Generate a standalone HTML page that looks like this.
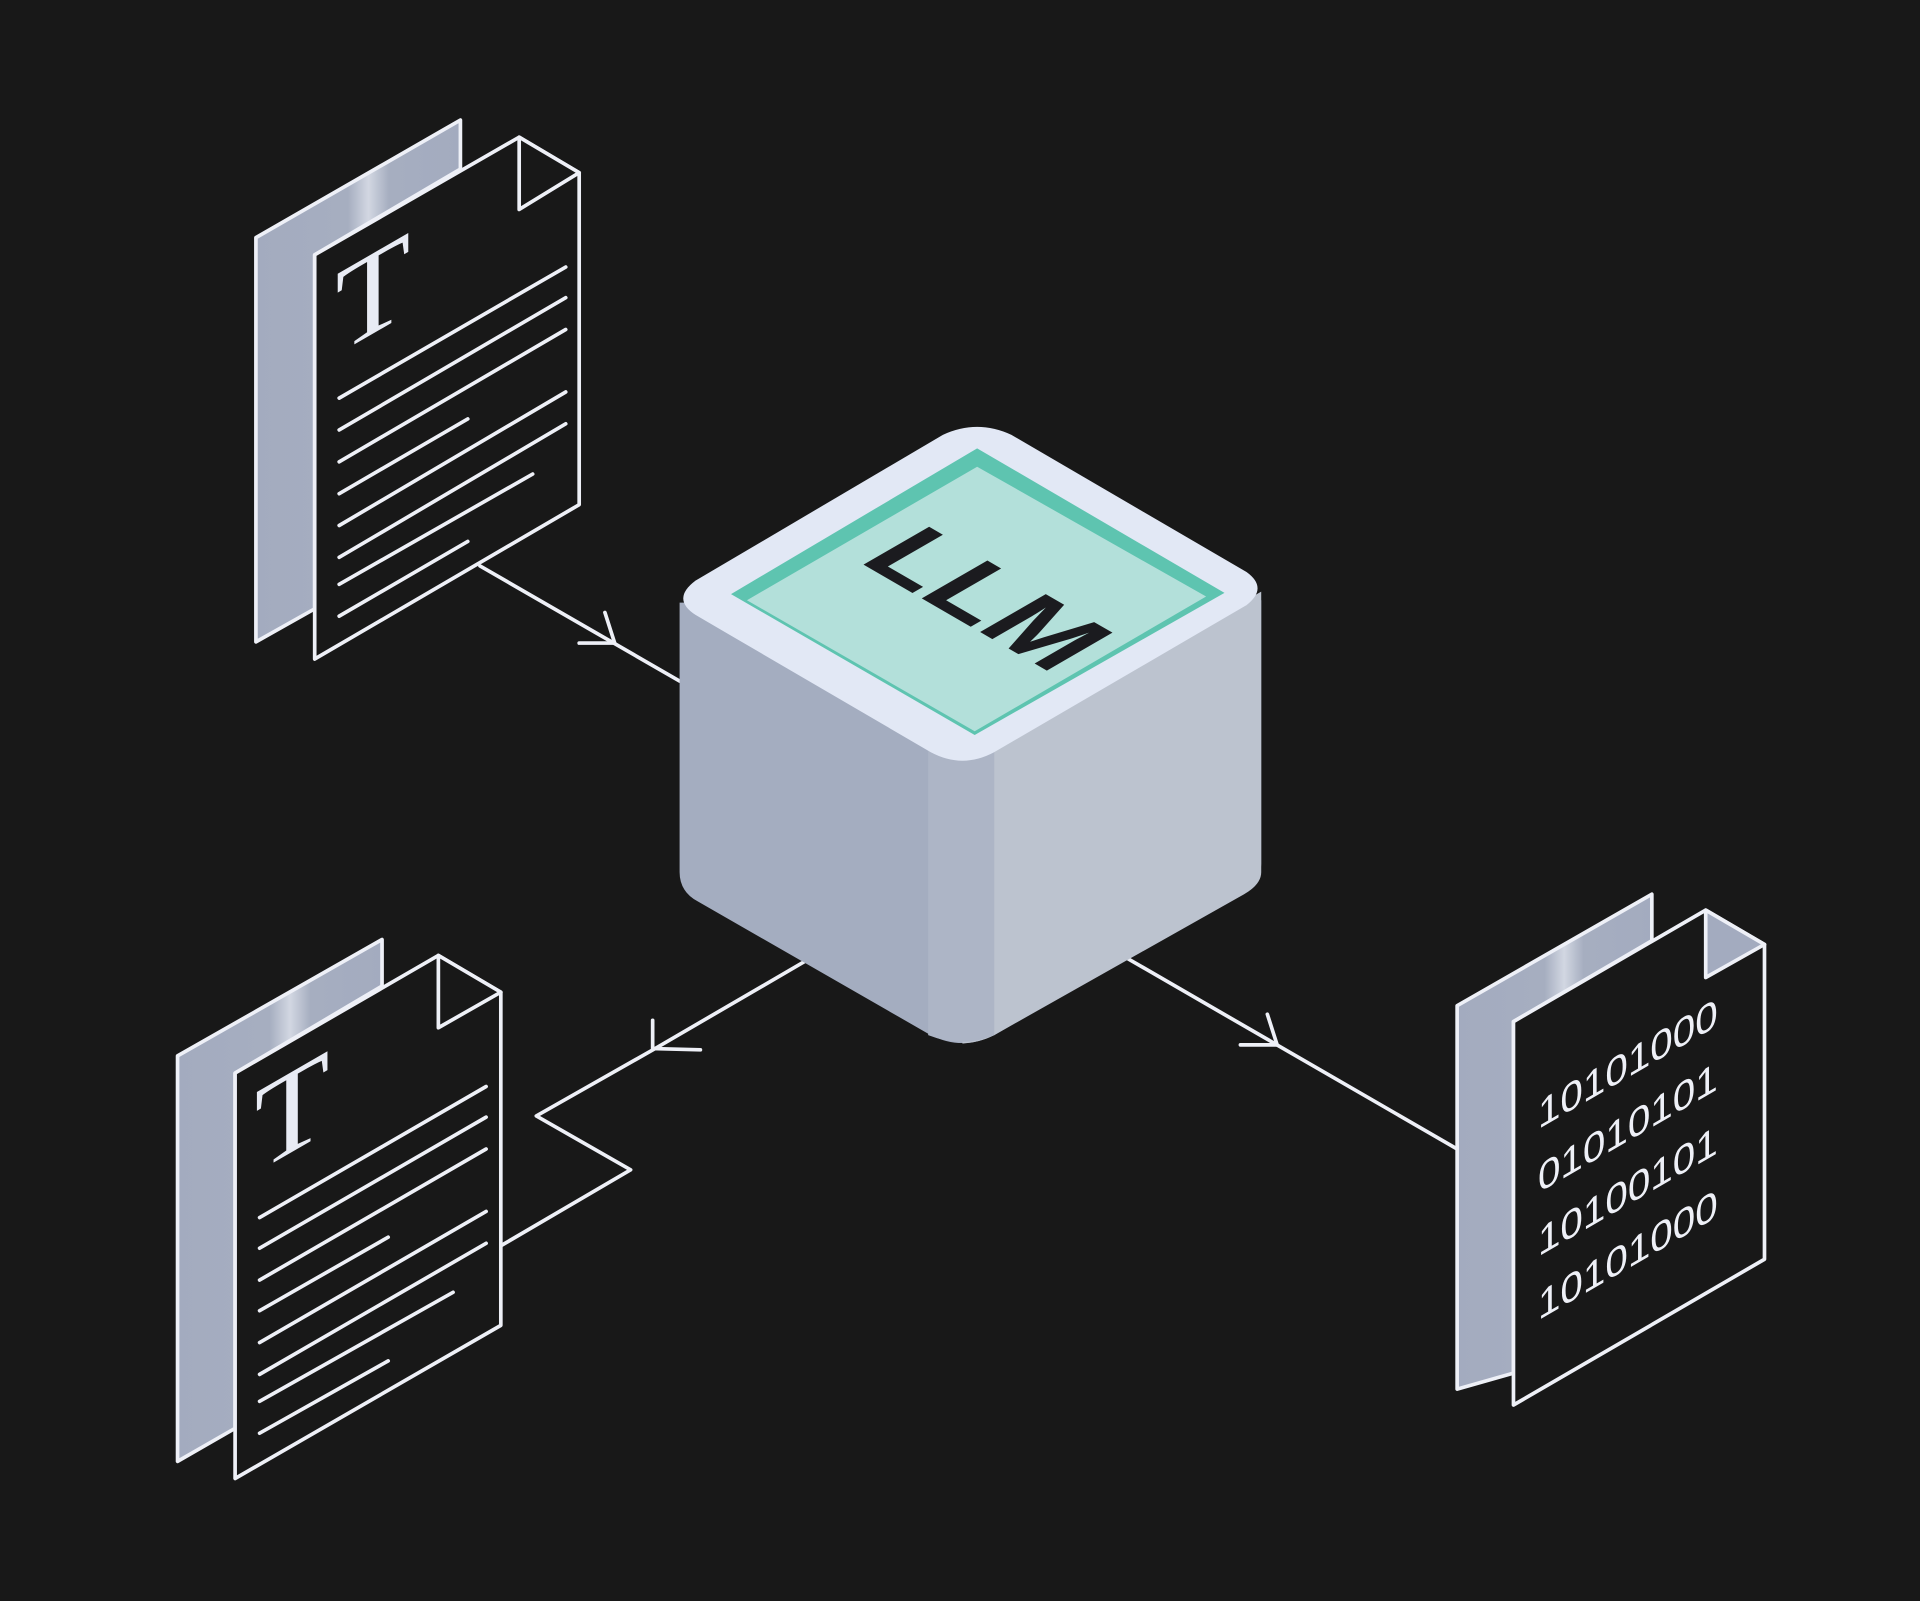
<!DOCTYPE html>
<html><head><meta charset="utf-8"><style>
html,body{margin:0;padding:0;background:#181818;}
svg{display:block}
</style></head><body>
<svg width="1920" height="1601" viewBox="0 0 1568 1307" preserveAspectRatio="none" xmlns="http://www.w3.org/2000/svg">
<defs>
<linearGradient id="pg" x1="0" y1="0" x2="1" y2="0">
<stop offset="0" stop-color="#a3abbf"/><stop offset="0.45" stop-color="#a6aec0"/><stop offset="0.55" stop-color="#d2d7e2"/><stop offset="0.65" stop-color="#a6aec0"/><stop offset="1" stop-color="#a3abbf"/>
</linearGradient>
</defs>
<rect width="1568" height="1307" fill="#181818"/>
<g stroke="#eef0f7" stroke-width="3" stroke-linecap="round" stroke-linejoin="round" fill="none">
<path d="M392 462 L555 556"/>
<path d="M473 525 L502 525 M494 500 L502 525"/>
<path d="M657 785 L535 856 L438 911 L515 955 L409 1017"/>
<path d="M533 833 L533 856 L572 857"/>
<path d="M920 782 L1190 938"/>
<path d="M1013 853 L1043 853 M1035 828 L1043 853"/>

<polygon points="209,194 376,98 376,138 257,208 257,497 209,524" fill="url(#pg)"/>
<polygon points="257,208 424,112 473,141 473,412 257,538" fill="#181818"/>
<polygon points="424,112 424,171 473,141" fill="#181818"/>
<path d="M277 325 L462 218 M277 351 L462 243 M277 377 L462 269 M277 403 L382 342 M277 429 L462 320 M277 455 L462 346 M277 477 L435 387 M277 503 L382 442"/>

<polygon points="145,862 312,767 312,805 192,876 192,1166 145,1193" fill="url(#pg)"/>
<polygon points="192,876 358,780 409,810 409,1082 192,1207" fill="#181818"/>
<polygon points="358,780 358,839 409,810" fill="#181818"/>
<path d="M212 994 L397 887 M212 1019 L397 912 M212 1045 L397 938 M212 1070 L317 1010 M212 1096 L397 989 M212 1122 L397 1015 M212 1144 L370 1055 M212 1170 L317 1111"/>

<polygon points="1190,821 1349,730 1349,768 1236,834 1236,1121 1190,1134" fill="url(#pg)"/>
<polygon points="1236,834 1393,743 1441,771 1441,1028 1236,1147" fill="#181818"/>
<polygon points="1393,743 1393,798 1441,771" fill="#a3abbf"/>
</g>
<text font-family="Liberation Serif, serif" font-size="100" fill="#e8ebf4" transform="translate(274,290) skewY(-30)">T</text>
<text font-family="Liberation Serif, serif" font-size="100" fill="#e8ebf4" transform="translate(208,958) skewY(-30)">T</text>
<g font-family="Liberation Sans, sans-serif" font-size="33" fill="#eef0f7">
<text transform="translate(1256,922) skewY(-30)">10101000</text>
<text transform="translate(1256,974) skewY(-30)">01010101</text>
<text transform="translate(1256,1026) skewY(-30)">10100101</text>
<text transform="translate(1256,1078) skewY(-30)">10101000</text>
</g>

<path d="M555 492 L555 712 Q555 728 570 736 L760 845 Q786 858 812 845 L1016 727 Q1030 718 1030 705 L1030 490 Z" fill="#a4adc0"/>
<path d="M786 622 L1030 483 L1030 712 Q1030 722 1016 730 L812 845 Q800 851 786 852 Z" fill="#bcc3cf"/>
<path d="M758 610 L812 610 L812 845 Q786 856 758 845 Z" fill="#adb5c6"/>
<path d="M770 355 Q798 342 826 355 L1018 467 Q1036 480 1018 494 L812 614 Q786 628 760 614 L568 502 Q548 489 568 474 Z" fill="#e2e8f5"/>
<polygon points="798,366 597,485 796,600 1000,484" fill="#5ec4b0"/>
<polygon points="798,381 610,490 796,597 985,487" fill="#b3e0da"/>
<text font-family="Liberation Sans, sans-serif" font-weight="bold" font-size="90" fill="#1b1b1f" transform="translate(700,458) matrix(0.866,0.5,-0.866,0.5,0,0)">LLM</text>
</svg>
</body></html>
